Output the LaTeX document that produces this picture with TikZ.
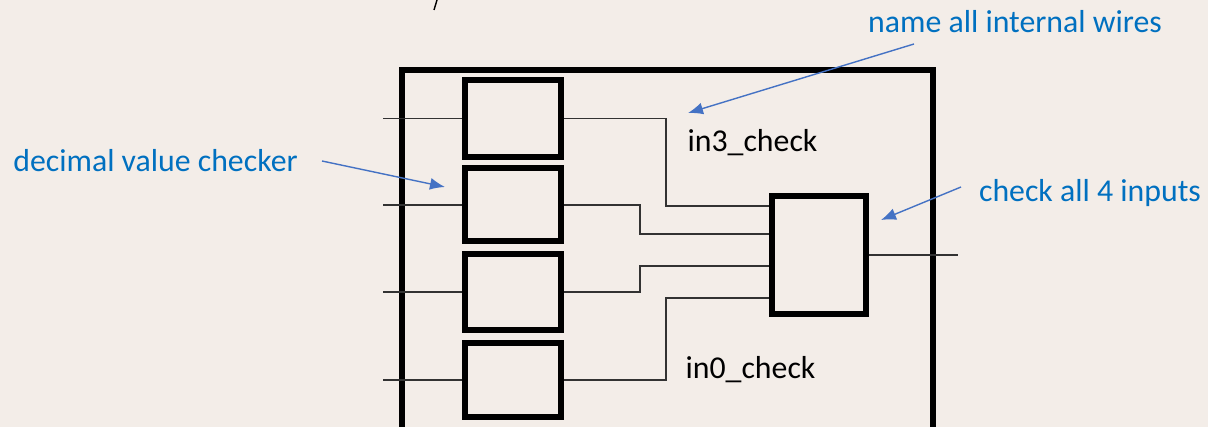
\documentclass[tikz,border=0pt]{standalone}
\usepackage{fontspec}
\setmainfont{Carlito}
\usetikzlibrary{arrows.meta}
\definecolor{bgc}{RGB}{243,237,232}
\definecolor{txtblue}{RGB}{0,112,192}
\definecolor{arrblue}{RGB}{68,114,196}
\definecolor{wirec}{RGB}{50,50,50}
\tikzset{
  blk/.style={draw=black, line width=6pt, inner sep=0pt, minimum width=96pt},
  wire/.style={draw=wirec, line width=1.3pt},
  note/.style={text=txtblue, font=\fontsize{31.8}{34}\selectfont, anchor=base, inner sep=0pt},
  lbl/.style={text=black, font=\fontsize{31.8}{34}\selectfont, anchor=base, inner sep=0pt},
  pointer/.style={draw=arrblue, line width=1.4pt, -{Latex[length=15pt,width=12pt]}},
}
\begin{document}
\begin{tikzpicture}[x=1pt,y=-1pt]
\fill[bgc] (0,0) rectangle (1208,427);
\useasboundingbox (0,0) rectangle (1208,427);
\clip (0,0) rectangle (1208,427);
% outer box (continues below the frame)
\draw[line width=6pt] (402,440) -- (402,70) -- (933,70) -- (933,440);
% small slash at top
\draw[line width=1.4pt, black] (437,0) -- (434,10);
% checker blocks
\node[blk, minimum height=77pt] (b1) at (513,118.5) {};
\node[blk, minimum height=73pt] (b2) at (513,205) {};
\node[blk, minimum height=76pt] (b3) at (513,292) {};
\node[blk, minimum height=74pt] (b4) at (513,380) {};
\node[blk, minimum width=94pt, minimum height=118pt] (big) at (819,255) {};
% free ends
\coordinate (in1) at (383,118.5);
\coordinate (in2) at (383,205);
\coordinate (in3) at (383,292);
\coordinate (in4) at (383,380);
\coordinate (out) at (958,255);
\draw[wire] (in1) -- (b1.west);
\draw[wire] (in2) -- (b2.west);
\draw[wire] (in3) -- (b3.west);
\draw[wire] (in4) -- (b4.west);
\draw[wire] (b1.east) -| (666,206) -- (big.west |- 0,206);
\draw[wire] (b2.east) -| (640,234) -- (big.west |- 0,234);
\draw[wire] (b3.east) -| (640,266) -- (big.west |- 0,266);
\draw[wire] (b4.east) -| (666,298) -- (big.west |- 0,298);
\draw[wire] (big.east) -- (out);
% labels
\node[note] (dvc) at (155.5,172) {decimal value checker};
\node[note] (naw) at (1015,33) {name all internal wires};
\node[note] (cai) at (1090,202) {check all 4 inputs};
\node[lbl] (l3) at (752.5,152) {in3\_check};
\node[lbl] (l0) at (750.5,379) {in0\_check};
% pointers
\coordinate (p1s) at (322,161);
\coordinate (p1e) at (445,187);
\coordinate (p2s) at (914,44);
\coordinate (p2e) at (688,113);
\coordinate (p3s) at (961,187);
\coordinate (p3e) at (881,220);
\draw[pointer] (p1s) -- (p1e);
\draw[pointer] (p2s) -- (p2e);
\draw[pointer] (p3s) -- (p3e);
\end{tikzpicture}
\end{document}
